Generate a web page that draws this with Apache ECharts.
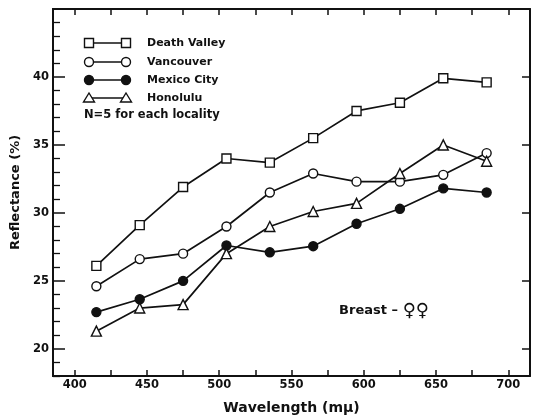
<!DOCTYPE html>
<html>
<head>
<meta charset="utf-8">
<script src="https://cdn.jsdelivr.net/npm/echarts@6/dist/echarts.min.js"></script>
<style>html,body{margin:0;padding:0;background:#fff}#c{width:535px;height:420px}</style>
</head>
<body>
<div id="c"></div>
<script>
var wavelengths = [415, 445, 475, 505, 535, 565, 595, 625, 655, 685];
var deathValley = [26.1, 29.1, 31.9, 34.0, 33.7, 35.5, 37.5, 38.1, 39.9, 39.6];
var vancouver   = [24.6, 26.6, 27.0, 29.0, 31.5, 32.9, 32.3, 32.3, 32.8, 34.4];
var mexicoCity  = [22.7, 23.65, 25.0, 27.6, 27.1, 27.55, 29.2, 30.3, 31.8, 31.5];
var honolulu    = [21.3, 23.0, 23.25, 27.0, 29.0, 30.1, 30.7, 32.9, 35.0, 33.8];
var xLabels = [400, 450, 500, 550, 600, 650, 700];
var xTicks = [400, 425, 450, 475, 500, 525, 550, 575, 600, 625, 650, 675, 700];
var yLabels = [20, 25, 30, 35, 40];
var yMinorTicks = [18,19,21,22,23,24,26,27,28,29,31,32,33,34,36,37,38,39,41,42,43,44];
var seriesNames = ['Death Valley', 'Vancouver', 'Mexico City', 'Honolulu'];
var noteText = 'N=5 for each locality';
var annotationText = 'Breast –';
var annotationSymbol = '♀♀';

var FONT = 'DejaVu Sans';
var K = '#111';
function pairs(vals){ return wavelengths.map(function(w,i){ return [w, vals[i]]; }); }

var styles = [
  {symbol:'rect', fill:'#fff'},
  {symbol:'circle', fill:'#fff'},
  {symbol:'circle', fill:K},
  {symbol:'triangle', fill:'#fff'}
];
var datasets = [deathValley, vancouver, mexicoCity, honolulu];

var series = datasets.map(function(d, i){
  return {
    name: seriesNames[i], type:'line', xAxisIndex:0, yAxisIndex:0,
    data: pairs(d), symbol: styles[i].symbol, symbolSize: styles[i].symbol==='triangle'?10:9,
    showAllSymbol:true,
    lineStyle:{color:K, width:1.7},
    itemStyle:{color:styles[i].fill, borderColor:K, borderWidth:1.4},
    z: 3 + i
  };
});

var xBase = {type:'value', min:385, max:715, gridIndex:0,
  axisLine:{lineStyle:{color:K, width:2}}, splitLine:{show:false}};
var yBase = {type:'value', min:18, max:45, gridIndex:0,
  axisLine:{lineStyle:{color:K, width:2}}, splitLine:{show:false}};

var legendChildren = [];
var rowY = [43, 62, 80, 98];
function sym(i, cx, cy){
  var st = {fill: styles[i].fill, stroke: K, lineWidth: 1.4};
  if (styles[i].symbol === 'rect') return {type:'rect', shape:{x:cx-4.5, y:cy-4.5, width:9, height:9}, style:st};
  if (styles[i].symbol === 'circle') return {type:'circle', shape:{cx:cx, cy:cy, r:4.5}, style:st};
  return {type:'polygon', shape:{points:[[cx, cy-5],[cx+5.5, cy+4],[cx-5.5, cy+4]]}, style:st};
}
seriesNames.forEach(function(n, i){
  var y = rowY[i];
  legendChildren.push({type:'line', shape:{x1:89, y1:y, x2:126, y2:y}, style:{stroke:K, lineWidth:1.5}});
  legendChildren.push(sym(i, 89, y));
  legendChildren.push(sym(i, 126, y));
  legendChildren.push({type:'text', x:147, y:y, style:{text:n, fill:K, font:'bold 11px "'+FONT+'"', verticalAlign:'middle', textAlign:'left'}});
});
legendChildren.push({type:'text', x:84, y:115, style:{text:noteText, fill:K, font:'bold 11.5px "'+FONT+'"', verticalAlign:'middle', textAlign:'left'}});
legendChildren.push({type:'text', x:398, y:311, style:{text:annotationText, fill:K, font:'bold 13px "'+FONT+'"', verticalAlign:'middle', textAlign:'right'}});
legendChildren.push({type:'text', x:429, y:311, style:{text:annotationSymbol, fill:K, font:'bold 18px "'+FONT+'"', verticalAlign:'middle', textAlign:'right'}});

var option = {
  animation:false,
  backgroundColor:'#fff',
  grid:{left:53, right:5, top:9, bottom:35, containLabel:false},
  xAxis:[
    Object.assign({}, xBase, {position:'bottom',
      name:'Wavelength (mμ)', nameLocation:'middle', nameGap:25,
      nameTextStyle:{color:K, fontFamily:FONT, fontWeight:'bold', fontSize:14},
      axisTick:{inside:true, length:6, lineStyle:{color:K, width:1.5}, customValues:xTicks},
      axisLabel:{color:K, fontFamily:FONT, fontWeight:'bold', fontSize:11.5, margin:3, customValues:xLabels}}),
    Object.assign({}, xBase, {position:'top',
      axisTick:{inside:true, length:6, lineStyle:{color:K, width:1.5}, customValues:xTicks},
      axisLabel:{show:false}})
  ],
  yAxis:[
    Object.assign({}, yBase, {position:'left',
      name:'Reflectance (%)', nameLocation:'middle', nameGap:31, nameRotate:90,
      nameTextStyle:{color:K, fontFamily:FONT, fontWeight:'bold', fontSize:13},
      axisTick:{inside:true, length:12, lineStyle:{color:K, width:1.5}, customValues:yLabels},
      axisLabel:{color:K, fontFamily:FONT, fontWeight:'bold', fontSize:11.5, margin:4, customValues:yLabels}}),
    Object.assign({}, yBase, {position:'left',
      axisTick:{inside:true, length:7, lineStyle:{color:K, width:1.3}, customValues:yMinorTicks},
      axisLabel:{show:false}}),
    Object.assign({}, yBase, {position:'right',
      axisTick:{inside:true, length:8, lineStyle:{color:K, width:1.5}, customValues:yLabels},
      axisLabel:{show:false}})
  ],
  series: series,
  graphic: legendChildren
};

var chart = echarts.init(document.getElementById('c'), null, {renderer:'canvas'});
chart.setOption(option);
</script>
</body>
</html>
